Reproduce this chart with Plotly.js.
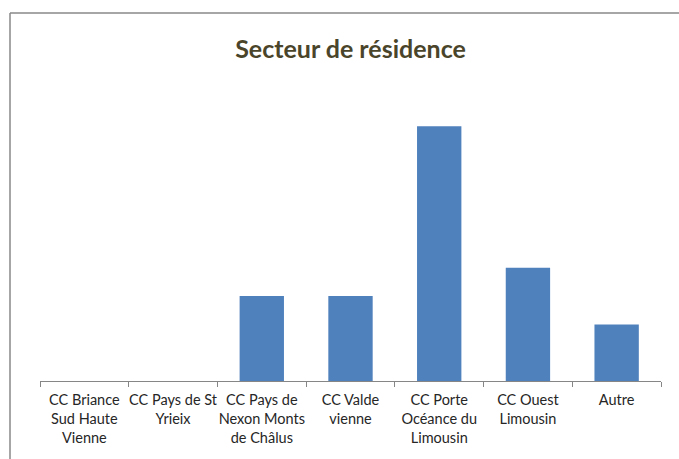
<!DOCTYPE html>
<html>
<head>
<meta charset="utf-8">
<script src="https://cdn.plot.ly/plotly-3.0.1.min.js"></script>
<style>html,body{margin:0;padding:0;background:#fff;overflow:hidden;}#chart{width:679px;height:459px;}</style>
</head>
<body>
<div id="chart"></div>
<script>
const categories = [
  "CC Briance<br>Sud Haute<br>Vienne",
  "CC Pays de St<br>Yrieix",
  "CC Pays de<br>Nexon Monts<br>de Châlus",
  "CC Valde<br>vienne",
  "CC Porte<br>Océance du<br>Limousin",
  "CC Ouest<br>Limousin",
  "Autre"
];
const values = [0, 0, 3, 3, 9, 4, 2];
const chartTitle = "Secteur de résidence";

const trace = {
  type: 'bar',
  x: categories,
  y: values,
  marker: {color: '#4f81bd'},
  hoverinfo: 'none'
};

const frame = {color: '#898989', width: 1.5};
const layout = {
  width: 679, height: 459,
  margin: {l: 40, r: 18, t: 98, b: 78},
  paper_bgcolor: '#ffffff', plot_bgcolor: '#ffffff',
  showlegend: false,
  bargap: 0.5,
  title: {
    text: '<b>' + chartTitle + '</b>',
    font: {family: 'Lato, "Open Sans", sans-serif', size: 25, color: '#4a452a'},
    x: 0.5, xref: 'paper', xanchor: 'center',
    y: 48, yref: 'container', yanchor: 'middle'
  },
  xaxis: {
    type: 'category',
    showline: true, linecolor: '#868686', linewidth: 1,
    ticks: 'outside', tickson: 'boundaries', ticklen: 5, tickcolor: '#868686', tickwidth: 1,
    showgrid: false, zeroline: false,
    ticklabelstandoff: 6,
    tickfont: {family: 'Lato, "Open Sans", sans-serif', size: 14.5, color: '#262626'},
    tickangle: 0
  },
  yaxis: {
    range: [0, 10], visible: false, showgrid: false, zeroline: false
  },
  shapes: [
    {type: 'line', xref: 'paper', yref: 'paper', x0: -30/621, x1: 700/621, y0: 368/283, y1: 368/283, line: frame, layer: 'above'},
    {type: 'line', xref: 'paper', yref: 'paper', x0: -30/621, x1: -30/621, y0: -100/283, y1: 368/283, line: frame, layer: 'above'}
  ]
};

Plotly.newPlot('chart', [trace], layout, {staticPlot: true, displayModeBar: false});
</script>
</body>
</html>
